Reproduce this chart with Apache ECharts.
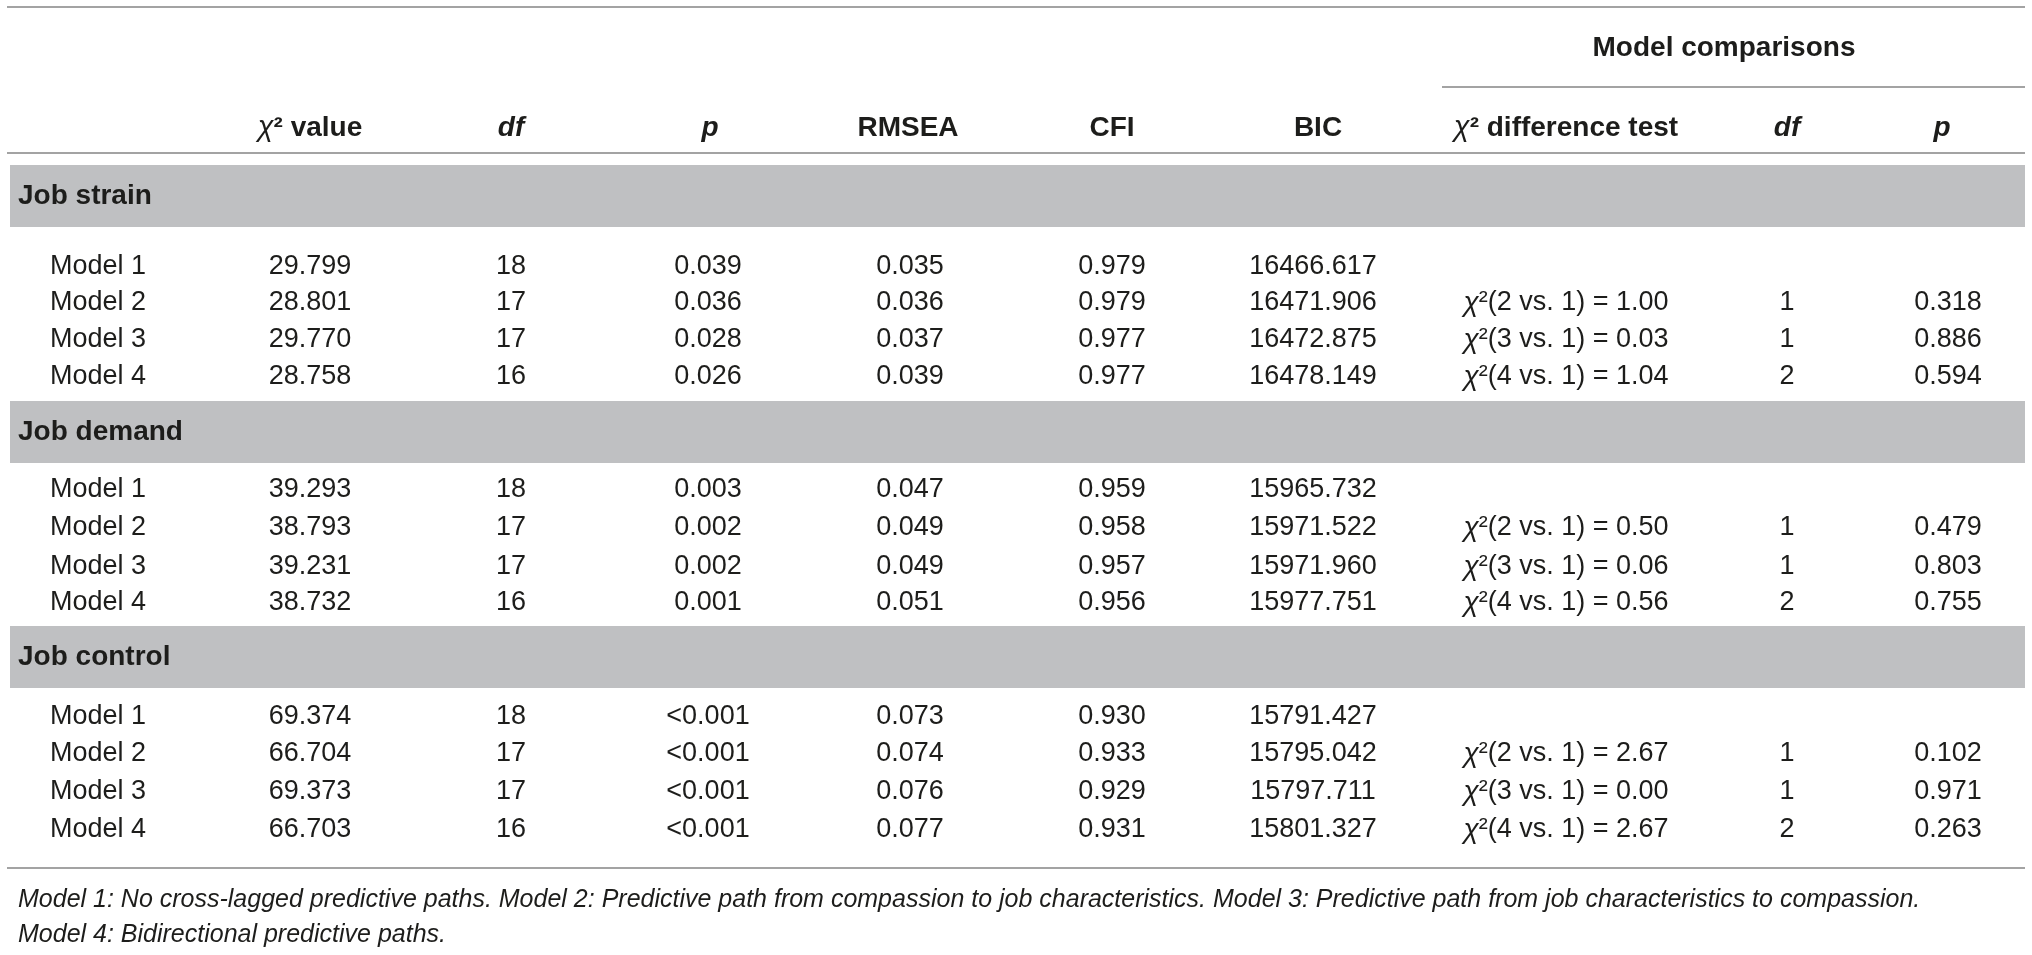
<!DOCTYPE html>
<html>
<head>
<meta charset="utf-8">
<script src="https://cdn.jsdelivr.net/npm/echarts@6/dist/echarts.min.js"></script>
<style>
html,body{margin:0;padding:0;background:#fff;}
#chart{width:2032px;height:955px;}
</style>
</head>
<body>
<div id="chart"></div>
<script>
// ---------- DATA ----------
const sections = ['Job strain', 'Job demand', 'Job control'];
const models = ['Model 1', 'Model 2', 'Model 3', 'Model 4'];
const groupHeader = 'Model comparisons';
const headers = ['χ² value', 'df', 'p', 'RMSEA', 'CFI', 'BIC', 'χ² difference test', 'df', 'p'];
const chiSq = [
  ['29.799', '28.801', '29.770', '28.758'],
  ['39.293', '38.793', '39.231', '38.732'],
  ['69.374', '66.704', '69.373', '66.703']
];
const dfVals = [
  [18, 17, 17, 16],
  [18, 17, 17, 16],
  [18, 17, 17, 16]
];
const pVals = [
  ['0.039', '0.036', '0.028', '0.026'],
  ['0.003', '0.002', '0.002', '0.001'],
  ['<0.001', '<0.001', '<0.001', '<0.001']
];
const rmsea = [
  ['0.035', '0.036', '0.037', '0.039'],
  ['0.047', '0.049', '0.049', '0.051'],
  ['0.073', '0.074', '0.076', '0.077']
];
const cfi = [
  ['0.979', '0.979', '0.977', '0.977'],
  ['0.959', '0.958', '0.957', '0.956'],
  ['0.930', '0.933', '0.929', '0.931']
];
const bic = [
  ['16466.617', '16471.906', '16472.875', '16478.149'],
  ['15965.732', '15971.522', '15971.960', '15977.751'],
  ['15791.427', '15795.042', '15797.711', '15801.327']
];
const diffComp = [null, '2 vs. 1', '3 vs. 1', '4 vs. 1'];
const diffChi = [
  [null, '1.00', '0.03', '1.04'],
  [null, '0.50', '0.06', '0.56'],
  [null, '2.67', '0.00', '2.67']
];
const diffDf = [
  [null, 1, 1, 2],
  [null, 1, 1, 2],
  [null, 1, 1, 2]
];
const diffP = [
  [null, '0.318', '0.886', '0.594'],
  [null, '0.479', '0.803', '0.755'],
  [null, '0.102', '0.971', '0.263']
];
const footnote = [
  'Model 1: No cross-lagged predictive paths. Model 2: Predictive path from compassion to job characteristics. Model 3: Predictive path from job characteristics to compassion.',
  'Model 4: Bidirectional predictive paths.'
];

// ---------- LAYOUT ----------
const W = 2032, H = 955;
const colX = [310, 511, 708, 910, 1112, 1313, 1566, 1787, 1948];
const headColX = [310, 511, 710, 908, 1112, 1318, 1566, 1787, 1942];
const italicHead = [false, true, true, false, false, false, false, true, true];
const headY = 128, groupY = 48, groupX = 1724;
const labelX = 50, sectionX = 18;
const bandTop = [165, 401, 626], bandH = 62, bandX0 = 10, bandX1 = 2025;
const rowY = [[267, 303, 340, 377], [490, 528, 567, 603], [717, 754, 792, 830]];
const lines = [[7, 7, 2025, 7], [1442, 87, 2025, 87], [7, 153, 2025, 153], [7, 868, 2025, 868]];
const footX = 18, footY = [900, 935];

const FONT = '"Liberation Sans", Arial, Helvetica, sans-serif';
const TXT = '#1d1d1b';
const BODY = 27, HEAD = 28, FOOT = 25;

function chiText(rest) { return '{ci|χ}' + rest; }

// ---------- CELLS ----------
const cells = [];
function add(x, y, text, opt) {
  cells.push(Object.assign({x: x, y: y, text: text, size: BODY, weight: 'normal', style: 'normal', align: 'center'}, opt || {}));
}
add(groupX, groupY, groupHeader, {size: HEAD, weight: 'bold'});
headers.forEach(function (h, i) {
  let t = h;
  if (h.indexOf('χ') === 0) t = chiText(h.slice(1));
  add(headColX[i], headY, t, {size: HEAD, weight: 'bold', style: italicHead[i] ? 'italic' : 'normal'});
});
sections.forEach(function (sec, s) {
  add(sectionX, bandTop[s] + bandH / 2, sec, {size: HEAD, weight: 'bold', align: 'left'});
  models.forEach(function (m, r) {
    const y = rowY[s][r];
    add(labelX, y, m, {align: 'left'});
    add(colX[0], y, chiSq[s][r]);
    add(colX[1], y, String(dfVals[s][r]));
    add(colX[2], y, pVals[s][r]);
    add(colX[3], y, rmsea[s][r]);
    add(colX[4], y, cfi[s][r]);
    add(colX[5], y, bic[s][r]);
    if (diffChi[s][r] != null) {
      add(colX[6], y, chiText('²(' + diffComp[r] + ') = ' + diffChi[s][r]));
      add(colX[7], y, String(diffDf[s][r]));
      add(colX[8], y, diffP[s][r]);
    }
  });
});
footnote.forEach(function (f, i) {
  add(footX, footY[i], f, {size: FOOT, style: 'italic', align: 'left'});
});

const bands = sections.map(function (s, i) { return [bandX0, bandTop[i], bandX1, bandTop[i] + bandH]; });

const chart = echarts.init(document.getElementById('chart'), null, {renderer: 'canvas'});
chart.setOption({
  backgroundColor: '#ffffff',
  animation: false,
  grid: {left: 0, right: 0, top: 0, bottom: 0},
  xAxis: {type: 'value', min: 0, max: W, show: false},
  yAxis: {type: 'value', min: 0, max: H, inverse: true, show: false},
  series: [
    {
      type: 'custom', silent: true, clip: false,
      encode: {x: [0, 2], y: [1, 3]},
      data: bands,
      renderItem: function (params, api) {
        const p0 = api.coord([api.value(0), api.value(1)]);
        const p1 = api.coord([api.value(2), api.value(3)]);
        return {type: 'rect', shape: {x: p0[0], y: p0[1], width: p1[0] - p0[0], height: p1[1] - p0[1]}, style: {fill: '#bfc0c2'}};
      }
    },
    {
      type: 'custom', silent: true, clip: false,
      encode: {x: [0, 2], y: [1, 3]},
      data: lines,
      renderItem: function (params, api) {
        const p0 = api.coord([api.value(0), api.value(1)]);
        const p1 = api.coord([api.value(2), api.value(3)]);
        return {type: 'line', shape: {x1: p0[0], y1: p0[1], x2: p1[0], y2: p1[1]}, style: {stroke: '#a3a3a3', lineWidth: 2}};
      }
    },
    {
      type: 'custom', silent: true, clip: false,
      encode: {x: 0, y: 1},
      data: cells.map(function (c, i) { return [c.x, c.y, i]; }),
      renderItem: function (params, api) {
        const c = cells[params.dataIndex];
        const p = api.coord([api.value(0), api.value(1)]);
        return {
          type: 'text', x: p[0], y: p[1],
          style: {
            text: c.text, fill: TXT,
            fontSize: c.size, fontWeight: c.weight, fontStyle: c.style, fontFamily: FONT,
            align: c.align, verticalAlign: 'middle',
            textAlign: c.align, textVerticalAlign: 'middle',
            rich: {
              ci: {fontStyle: 'italic', fontWeight: 'normal', fontSize: c.size + 1, fontFamily: FONT, fill: TXT}
            }
          }
        };
      }
    }
  ]
});
</script>
</body>
</html>
